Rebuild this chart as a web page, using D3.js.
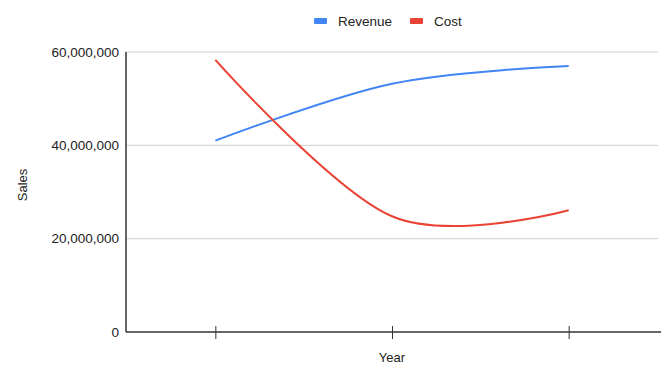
<!DOCTYPE html>
<html>
<head>
<meta charset="utf-8">
<script src="https://cdn.jsdelivr.net/npm/d3@7"></script>
<style>
  body { margin: 0; background: #fff; }
  text { font-family: Arial, "Liberation Sans", sans-serif; fill: #222; }
</style>
</head>
<body>
<div id="chart"></div>
<script>
// data
var years = ["2019", "2020", "2021"];
var revenue = [41000000, 53200000, 57000000];
var cost = [58300000, 24800000, 26100000];
var yTicks = [0, 20000000, 40000000, 60000000];
var seriesNames = ["Revenue", "Cost"];
var seriesColors = ["#4285f4", "#ea4335"];

var W = 662, H = 365;
// plot area edges (don't use "top", it's window.top)
var plotLeft = 126, plotRight = 658, plotTop = 52, plotBottom = 332;

var svg = d3.select("#chart").append("svg")
  .attr("width", W)
  .attr("height", H);

var x = d3.scalePoint()
  .domain(years)
  .range([plotLeft + 1, plotRight - 1])
  .padding(0.5);

var y = d3.scaleLinear()
  .domain([0, 60000000])
  .range([plotBottom, plotTop]);

// gridlines
svg.append("g")
  .selectAll("line")
  .data(yTicks.slice(1))
  .enter().append("line")
  .attr("x1", plotLeft)
  .attr("x2", plotRight)
  .attr("y1", function(d) { return y(d); })
  .attr("y2", function(d) { return y(d); })
  .style("stroke", "#d0d0d0")
  .style("stroke-width", 1);

// y tick labels
svg.append("g")
  .selectAll("text")
  .data(yTicks)
  .enter().append("text")
  .attr("x", plotLeft - 7)
  .attr("y", function(d) { return y(d); })
  .attr("dy", "0.35em")
  .attr("text-anchor", "end")
  .style("font-size", "13.5px")
  .text(function(d) { return d3.format(",")(d); });

// lines
var line = d3.line()
  .x(function(d, i) { return x(years[i]); })
  .y(function(d) { return y(d); })
  .curve(d3.curveCardinal.tension(0));

[revenue, cost].forEach(function(s, i) {
  svg.append("path")
    .datum(s)
    .attr("d", line)
    .style("fill", "none")
    .style("stroke", seriesColors[i])
    .style("stroke-width", 2);
});

// x axis with ticks, no labels
var xAxis = svg.append("g")
  .attr("transform", "translate(0," + plotBottom + ")")
  .call(d3.axisBottom(x).tickSize(0).tickFormat(""));
xAxis.select(".domain").remove();
xAxis.append("line")
  .attr("x1", plotLeft).attr("x2", plotRight + 3)
  .style("stroke", "#333").style("stroke-width", 1.5);
xAxis.selectAll(".tick").append("line")
  .attr("y1", -6).attr("y2", 7)
  .style("stroke", "#333").style("stroke-width", 1);

// y axis line
svg.append("line")
  .attr("x1", plotLeft).attr("x2", plotLeft)
  .attr("y1", plotTop).attr("y2", plotBottom)
  .style("stroke", "#333").style("stroke-width", 1.5);

// axis titles
svg.append("text")
  .attr("x", x(years[1]))
  .attr("y", 362)
  .attr("text-anchor", "middle")
  .style("font-size", "13px")
  .text("Year");

svg.append("text")
  .attr("transform", "translate(27,185) rotate(-90)")
  .attr("text-anchor", "middle")
  .style("font-size", "13px")
  .text("Sales");

// legend
var legendX = [314, 410];
var legend = svg.append("g")
  .selectAll("g")
  .data(seriesNames)
  .enter().append("g")
  .attr("transform", function(d, i) { return "translate(" + legendX[i] + ",21)"; });

legend.append("rect")
  .attr("x", 0)
  .attr("y", -3)
  .attr("width", 13)
  .attr("height", 6)
  .attr("rx", 1)
  .attr("fill", function(d, i) { return seriesColors[i]; });

legend.append("text")
  .attr("x", 24)
  .attr("y", 0)
  .attr("dy", "0.35em")
  .style("font-size", "13.5px")
  .text(function(d) { return d; });
</script>
</body>
</html>
